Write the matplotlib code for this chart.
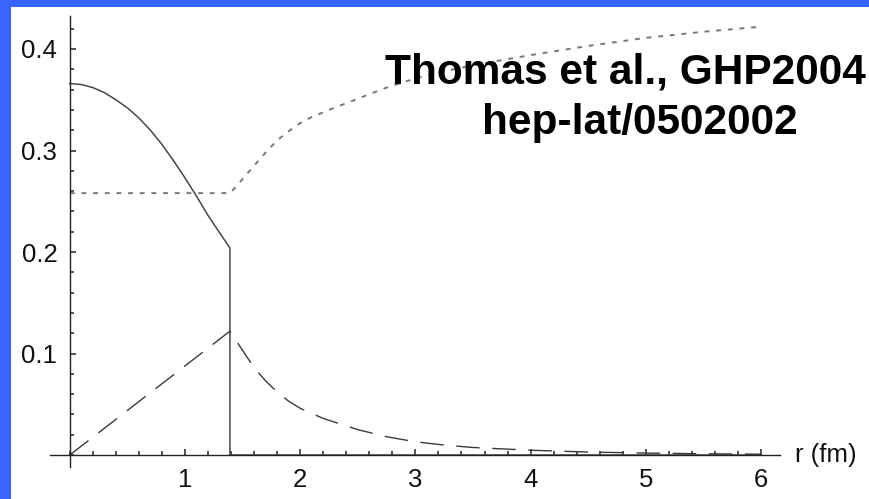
import matplotlib
matplotlib.use("Agg")
import matplotlib.pyplot as plt
from matplotlib.patches import Rectangle
from matplotlib.ticker import MultipleLocator

plt.rcParams['font.family'] = ['Liberation Sans', 'DejaVu Sans']

# bag radius (fm)
R_BAG = 1.39

# solid curve: inside the bag, then drops to zero at the surface
solid_r = [0.0, 0.1, 0.2, 0.3, 0.4, 0.5, 0.6, 0.7, 0.8, 0.9, 1.0, 1.1, 1.2,
           1.3, R_BAG, R_BAG, 6.0]
solid_v = [0.366, 0.365, 0.362, 0.357, 0.350, 0.342, 0.332, 0.320, 0.306,
           0.290, 0.273, 0.255, 0.236, 0.219, 0.204, 0.0, 0.0]

# dashed curve: linear rise inside, Yukawa-like tail outside
dash_r = [0.0, R_BAG, 1.5, 1.6, 1.7, 1.8, 1.9, 2.0, 2.2, 2.5, 2.75, 3.0,
          3.25, 3.5, 4.0, 4.5, 5.0, 5.5, 6.0]
dash_v = [0.0, 0.122, 0.103, 0.086, 0.073, 0.062, 0.053, 0.046, 0.036,
          0.025, 0.018, 0.013, 0.0098, 0.0074, 0.0047, 0.0029, 0.0019,
          0.0012, 0.0008]

# dotted curve: flat inside, rising outside
dot_r = [0.0, R_BAG, 1.45, 1.5, 1.6, 1.7, 1.8, 1.9, 2.0, 2.1, 2.25, 2.5,
         2.75, 3.0, 3.25, 3.5, 4.0, 4.5, 5.0, 5.5, 6.0]
dot_v = [0.258, 0.258, 0.265, 0.272, 0.285, 0.298, 0.310, 0.319, 0.327,
         0.333, 0.340, 0.351, 0.362, 0.371, 0.378, 0.384, 0.394, 0.403,
         0.411, 0.417, 0.422]

x_ticks = [1, 2, 3, 4, 5, 6]
y_ticks = [0.1, 0.2, 0.3, 0.4]

W, H = 870, 499
fig = plt.figure(figsize=(W / 100, H / 100), dpi=100)
fig.patch.set_facecolor('white')

# axes placed so that the origin sits at pixel (69.8, 455)
x0, x1 = -0.17, 6.165
y0, y1 = -0.012, 0.4325
px_left = 69.8 + x0 * 115.2
px_right = 69.8 + x1 * 115.2
px_bottom = 455 - y0 * 1015
px_top = 455 - y1 * 1015
ax = fig.add_axes([px_left / W, 1 - px_bottom / H,
                   (px_right - px_left) / W, (px_bottom - px_top) / H])
ax.set_xlim(x0, x1)
ax.set_ylim(y0, y1)
ax.patch.set_alpha(0)

ax.plot(solid_r, solid_v, color='#474747', lw=1.1, solid_joinstyle='round')
ax.plot(dash_r, dash_v, color='#3a3a3a', lw=1.0, dashes=(17, 9))
ax.plot(dot_r, dot_v, color='#777777', lw=1.4, dashes=(2.5, 3.5))

# Mathematica-style axes crossing at the origin
for s in ['top', 'right']:
    ax.spines[s].set_visible(False)
ax.spines['left'].set_position(('data', 0))
ax.spines['bottom'].set_position(('data', 0))
for s in ['left', 'bottom']:
    ax.spines[s].set_color('#222222')
    ax.spines[s].set_linewidth(1.0)

ax.xaxis.set_major_locator(MultipleLocator(1))
ax.xaxis.set_minor_locator(MultipleLocator(0.2))
ax.yaxis.set_major_locator(MultipleLocator(0.1))
ax.yaxis.set_minor_locator(MultipleLocator(0.02))
ax.set_xticks(x_ticks)
ax.set_yticks(y_ticks)
ax.set_xticklabels([str(t) for t in x_ticks])
ax.set_yticklabels([f"{t:.1f}" for t in y_ticks])
ax.tick_params(which='major', direction='in', length=4.5, width=1.1,
               color='#222222', labelsize=18.5, pad=9, labelcolor='#111111')
ax.tick_params(which='minor', direction='in', length=3.2, width=1.1,
               color='#222222')

ax.text(x1 + 0.13, 0, 'r (fm)', fontsize=18.5, va='center', ha='left',
        color='#111111')

fig.text(385 / W, 1 - 83 / H, 'Thomas et al., GHP2004', fontsize=30.5,
         fontweight='bold', ha='left', va='baseline', color='black')
fig.text(482 / W, 1 - 134 / H, 'hep-lat/0502002', fontsize=30.5,
         fontweight='bold', ha='left', va='baseline', color='black')

# blue slide frame on the left and top edges
fig.patches.append(Rectangle((0, 0), 11 / W, 1, transform=fig.transFigure,
                             facecolor='#3864ff', edgecolor='none', zorder=5))
fig.patches.append(Rectangle((0, 1 - 7 / H), 1, 7 / H, transform=fig.transFigure,
                             facecolor='#3864ff', edgecolor='none', zorder=5))

fig.savefig('out.png', dpi=100)
